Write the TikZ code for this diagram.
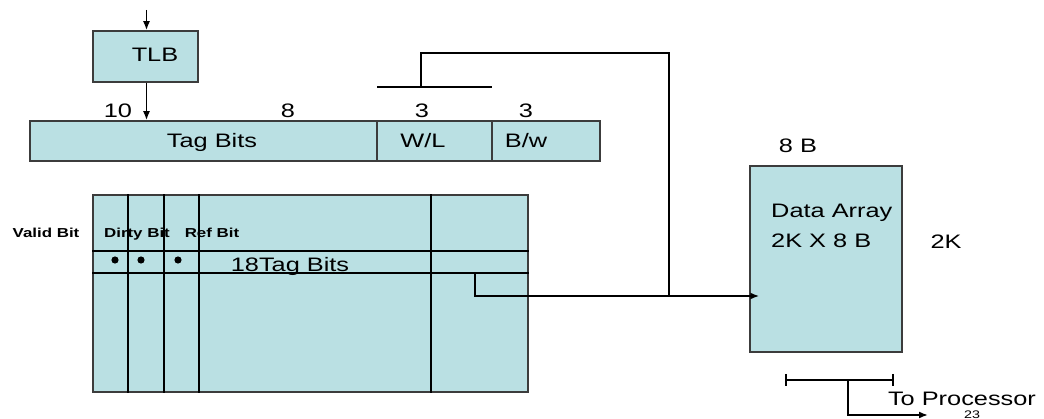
\documentclass[tikz,border=0pt]{standalone}
\usepackage{fontspec}
\setmainfont{Liberation Sans}
\usetikzlibrary{arrows.meta,calc}
\definecolor{boxfill}{RGB}{186,224,227}
\definecolor{boxline}{RGB}{60,60,60}
\newcommand{\sx}[1]{\scalebox{1.3}[1]{#1}}
\begin{document}
\begin{tikzpicture}[x=1pt,y=-1pt,
  box/.style={draw=boxline, fill=boxfill, line width=1.5pt, inner sep=0pt, rectangle},
  wire/.style={line width=1.7pt, black},
  arr/.style={wire, -{Latex[length=9pt,width=7pt]}},
  txt/.style={inner sep=0pt, anchor=base, font=\fontsize{19.5}{22}\selectfont},
  btxt/.style={inner sep=0pt, anchor=base, font=\fontsize{13}{15}\selectfont\bfseries},
  stxt/.style={inner sep=0pt, anchor=base, font=\fontsize{11}{13}\selectfont}]
\useasboundingbox (0,0) rectangle (1044,419);
\fill[white] (0,0) rectangle (1044,419);

% boxes
\node[box, minimum width=105pt, minimum height=51pt] (tlb) at (145.5,56.5) {};
\node[box, minimum width=347pt, minimum height=40pt] (tagf) at (203.5,141) {};
\node[box, minimum width=115pt, minimum height=40pt] (wl) at (434.5,141) {};
\node[box, minimum width=108pt, minimum height=40pt] (bw) at (546,141) {};
\node[box, minimum width=435pt, minimum height=197pt] (tarr) at (310.5,293.5) {};
\node[box, minimum width=152pt, minimum height=186pt] (data) at (826,259) {};

% texts
\node[txt] (tlbt) at (155,62) {\sx{TLB}};
\node[txt] (tagt) at (212,148) {\sx{Tag Bits}};
\node[txt] (wlt) at (423,148) {\sx{W/L}};
\node[txt] (bwt) at (526,148) {\sx{B/w}};
\node[txt] (n10) at (118,118) {\sx{10}};
\node[txt] (n8) at (288,118) {\sx{8}};
\node[txt] (n3a) at (422,118) {\sx{3}};
\node[txt] (n3b) at (526,118) {\sx{3}};
\node[btxt] (valid) at (46,238) {\sx{Valid Bit}};
\node[btxt] (dirty) at (137,238) {\sx{Dirty Bit}};
\node[btxt] (ref) at (212,238) {\sx{Ref Bit}};
\node[txt] (t18) at (290,272) {\sx{18Tag Bits}};
\node[txt] (b8) at (798,153) {\sx{8 B}};
\node[txt, anchor=base west] (dat1) at (771,218) {\sx{Data Array}};
\node[txt, anchor=base west] (dat2) at (771,248) {\sx{2K X 8 B}};
\node[txt] (k2) at (946,249) {\sx{2K}};
\node[txt] (proc) at (962,406) {\sx{To Processor}};
\node[stxt] (n23) at (972,418.7) {\sx{23}};

% tag array grid
\foreach \yy in {251,273} \draw[wire] (tarr.west |- 0,\yy) -- (tarr.east |- 0,\yy);
\foreach \xx in {128,164,199,431} \draw[wire] (tarr.north -| \xx,0) -- (tarr.south -| \xx,0);

% valid/dirty/ref dots
\foreach \xx in {115,141,178} \fill (\xx,260) circle (3.6pt);

% coordinates
\coordinate (in0) at (146.5,10);
\coordinate (busL) at (377,87);
\coordinate (busR) at (492,87);
\coordinate (busM) at (421,87);
\coordinate (busTop) at (669,53);
\coordinate (junc) at (669,296);
\coordinate (tapS) at (475,273);
\coordinate (brL) at (786,380);
\coordinate (brR) at (893,380);
\coordinate (brM) at (848,380);
\coordinate (outE) at (928,415);

% connectors
\draw[arr] (in0) -- (tlb.north -| in0);
\draw[arr] (tlb.south -| in0) -- (tagf.north -| in0);
\draw[wire] (busL) -- (busR);
\draw[wire] (busM) |- (busTop) -- (junc);
\draw[arr] (tapS) |- ($(data.west |- junc)+(10,0)$);
\draw[wire] (brL) -- (brR);
\draw[wire] ($(brL)+(0,-6)$) -- ($(brL)+(0,6)$);
\draw[wire] ($(brR)+(0,-6)$) -- ($(brR)+(0,6)$);
\draw[arr] (brM) |- (outE);
\end{tikzpicture}
\end{document}
